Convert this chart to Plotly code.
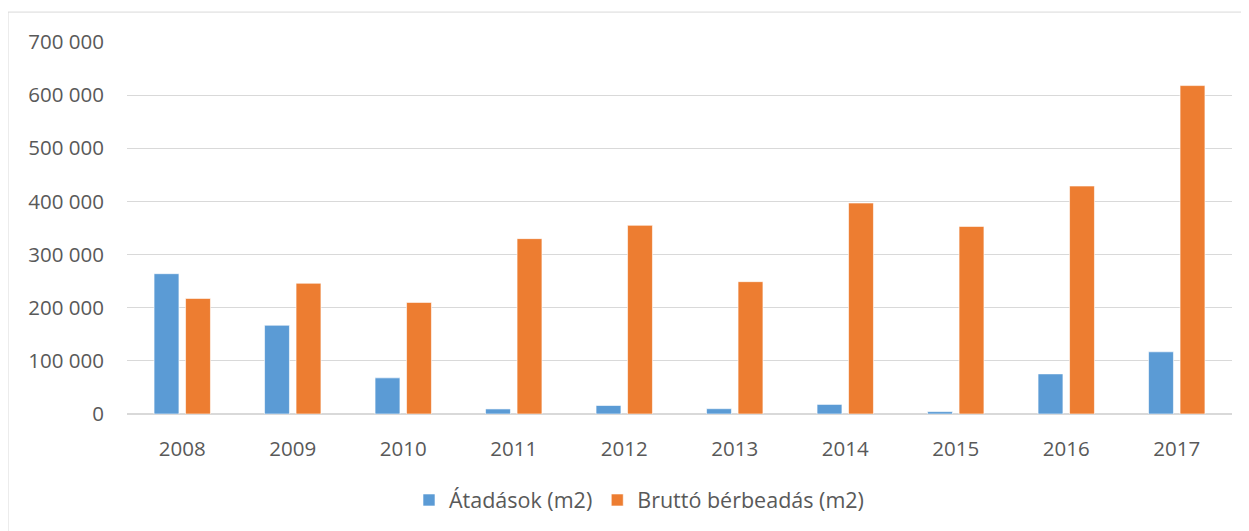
import plotly.graph_objects as go

years = ["2008", "2009", "2010", "2011", "2012", "2013", "2014", "2015", "2016", "2017"]
atadasok = [264000, 167000, 68000, 9500, 16000, 10000, 18000, 4500, 75500, 117000]
brutto = [217500, 246000, 210000, 330000, 355000, 249000, 397000, 353000, 429000, 618000]
series_names = ["Átadások (m2)", "Bruttó bérbeadás (m2)"]
y_ticks = [0, 100000, 200000, 300000, 400000, 500000, 600000, 700000]

# page body has an 8px margin, so the figure is offset by 8px in the viewport
OFF = 8
W, H = 1249 - OFF, 531 - OFF
PLOT_L, PLOT_R, PLOT_T, PLOT_B = 127, 1232, 42, 415  # viewport pixels
ML = PLOT_L - OFF
MT = PLOT_T - OFF
MR = W - (PLOT_R - OFF)
MB = H - (PLOT_B - OFF)
PW, PH = PLOT_R - PLOT_L, PLOT_B - PLOT_T


def px_x(p):
    return (p - PLOT_L) / PW


def px_y(p):
    return (PLOT_B - p) / PH


font_family = "Open Sans, Lato, sans-serif"
txt_color = "#595959"

fig = go.Figure()
fig.add_trace(go.Bar(x=years, y=atadasok, name=series_names[0],
                     marker=dict(color="#5B9BD5", line=dict(color="#FFFFFF", width=0.6))))
fig.add_trace(go.Bar(x=years, y=brutto, name=series_names[1],
                     marker=dict(color="#ED7D31", line=dict(color="#FFFFFF", width=0.6))))

fig.update_layout(
    width=W, height=H,
    margin=dict(l=ML, r=MR, t=MT, b=MB, pad=0),
    paper_bgcolor="white", plot_bgcolor="white",
    barmode="group", bargap=0.43, bargroupgap=0.21,
    separators=", ",
    font=dict(family=font_family, size=20.5, color=txt_color),
    showlegend=True,
    legend=dict(orientation="h", x=px_x(639), y=px_y(500), xanchor="center", yanchor="middle",
                font=dict(size=21.5, color=txt_color), bgcolor="rgba(0,0,0,0)",
                itemwidth=30, tracegroupgap=0),
    xaxis=dict(showgrid=False, showline=False, ticks="", ticklabelstandoff=20,
               tickfont=dict(size=20.5, color=txt_color)),
    yaxis=dict(range=[0, 700000], tickvals=y_ticks, tickformat=",d",
               showgrid=True, gridcolor="#D9D9D9", gridwidth=1,
               zeroline=True, zerolinecolor="#D9D9D9", zerolinewidth=2,
               showline=False, ticks="", ticklabelstandoff=22,
               tickfont=dict(size=20.5, color=txt_color)),
    shapes=[dict(type="rect", xref="paper", yref="paper",
                 x0=px_x(8), y0=px_y(560), x1=px_x(1270), y1=px_y(12),
                 line=dict(color="#D9D9D9", width=1), fillcolor="rgba(0,0,0,0)", layer="below")],
)

fig.write_html("out.html")
